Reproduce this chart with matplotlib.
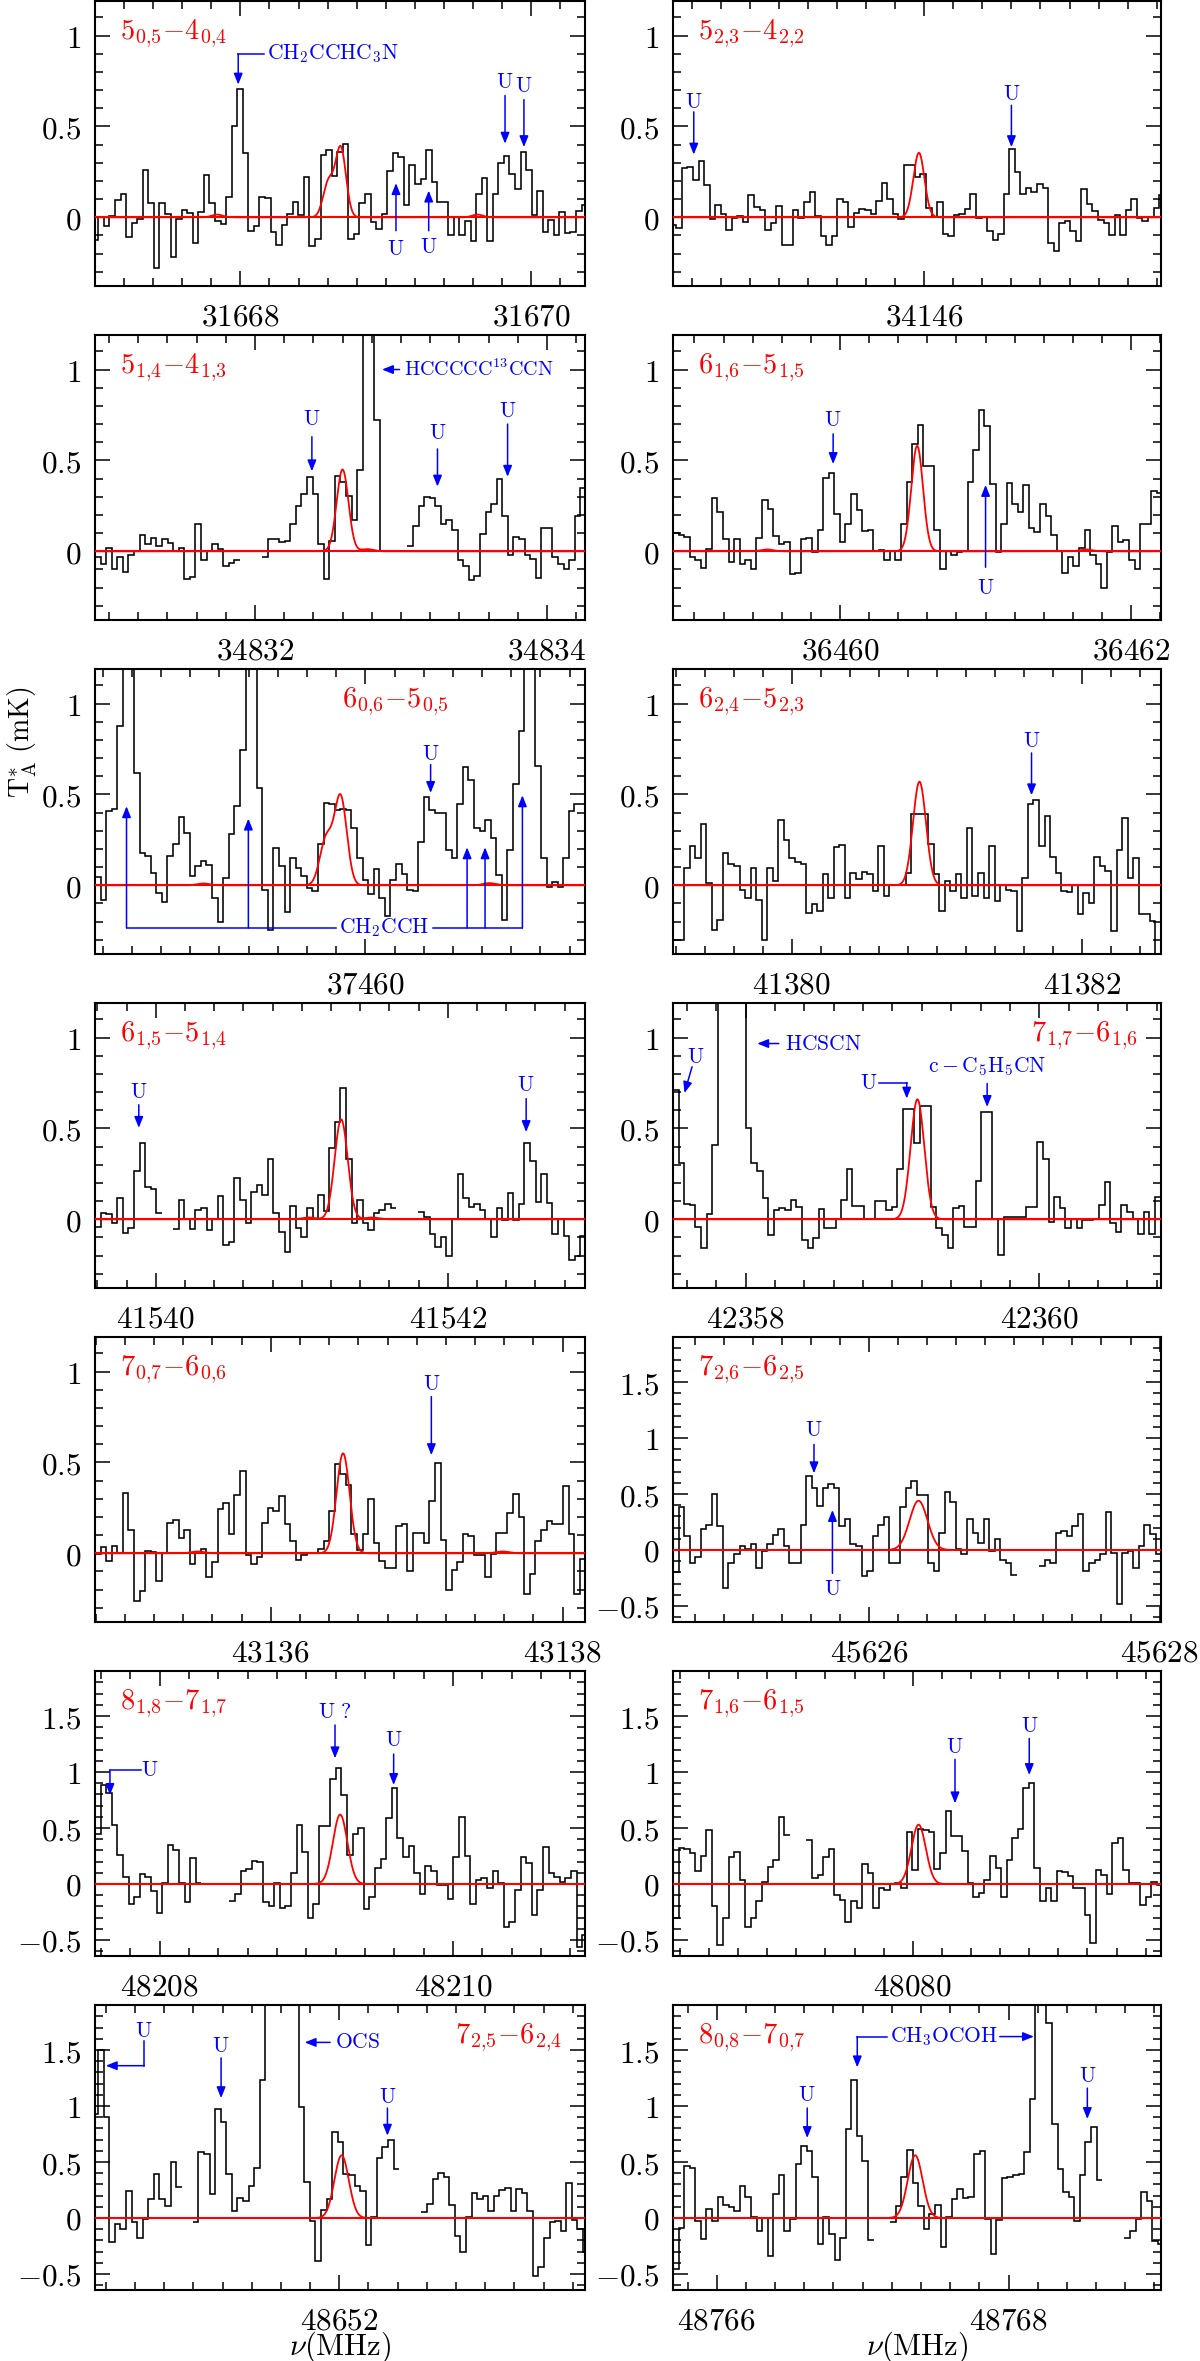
import numpy as np
import matplotlib
matplotlib.use("Agg")
import matplotlib.pyplot as plt
from matplotlib.ticker import MultipleLocator, FuncFormatter

plt.rcParams['mathtext.fontset'] = 'cm'
plt.rcParams['font.family'] = ['DejaVu Serif']

nan = np.nan
DNU = 0.0382  # channel width (MHz)

# ---------------- spectra (T_A* in mK), channel by channel ----------------
spec_1 = [-0.125, 0.0, -0.05, 0.005, 0.095, 0.13, -0.11, -0.03, -0.01, 0.26,
          0.08, -0.28, 0.08, 0.02, -0.22, -0.01, 0.04, 0.025, -0.14, 0.03,
          0.235, 0.08, -0.02, -0.035, 0.11, 0.5, 0.705, 0.355, -0.075, -0.05,
          0.11, 0.105, -0.08, -0.15, -0.04, 0.02, 0.085, 0.015, 0.22, -0.16,
          -0.12, 0.34, 0.37, 0.225, 0.36, 0.405, -0.12, -0.09, 0.08, 0.13,
          -0.025, -0.065, 0.02, 0.255, 0.355, 0.33, 0.065, 0.29, 0.185, 0.21,
          0.37, 0.195, 0.085, 0.085, -0.1, 0.0, -0.095, -0.02, -0.13, 0.13,
          0.215, -0.13, 0.13, 0.3, 0.335, 0.24, 0.155, 0.36, 0.26, 0.015,
          0.145, -0.08, -0.015, -0.1, 0.03, -0.085, -0.08, 0.035, 0.065]
spec_2 = [-0.045, -0.06, 0.27, 0.275, 0.205, 0.31, 0.18, -0.01, 0.07, 0.02,
          -0.07, -0.005, 0.005, -0.025, 0.125, 0.055, 0.04, -0.07, -0.03, 0.06,
          -0.15, -0.15, 0.04, -0.005, 0.085, 0.14, 0.005, -0.105, -0.15, -0.105,
          0.1, 0.085, -0.055, 0.025, 0.045, 0.04, 0.02, 0.09, 0.19, 0.1,
          0.02, -0.01, 0.29, 0.29, 0.22, 0.24, 0.05, 0.0, 0.085, -0.09,
          -0.105, 0.01, 0.02, 0.045, 0.13, -0.005, 0.0, -0.075, -0.125, -0.09,
          0.13, 0.375, 0.25, 0.13, 0.16, 0.14, 0.185, 0.16, -0.14, -0.185,
          -0.03, -0.02, -0.075, -0.13, 0.155, 0.075, 0.035, -0.015, -0.03, -0.1,
          0.015, -0.1, 0.04, 0.1, -0.005, -0.02, 0.0, 0.05, 0.12]
spec_3 = [-0.03, -0.07, 0.02, -0.1, -0.03, -0.115, -0.02, 0.0, 0.09, 0.04,
          0.075, 0.03, 0.065, 0.045, 0.0, 0.02, -0.15, -0.14, 0.15, -0.05,
          0.0, 0.04, 0.01, -0.08, -0.065, -0.05, nan, nan, nan, nan,
          -0.03, 0.07, 0.07, 0.05, 0.055, 0.15, 0.25, 0.315, 0.41, 0.315,
          0.04, -0.15, 0.055, 0.415, 0.38, 0.305, 0.17, 0.45, 2.0, 2.0,
          0.72, 0.0, nan, nan, nan, nan,
          0.03, 0.14, 0.25, 0.3, 0.295, 0.25, 0.15, 0.17, 0.115, -0.05,
          -0.08, -0.16, -0.135, 0.095, 0.215, 0.26, 0.395, 0.195, -0.02, 0.08,
          0.065, -0.02, -0.045, -0.145, 0.13, 0.13, -0.03, -0.07, -0.1, -0.05,
          0.195, 0.35]
spec_4 = [0.1, 0.09, 0.08, -0.03, -0.05, -0.09, 0.01, 0.295, 0.215, 0.07,
          -0.06, 0.07, -0.07, -0.05, -0.1, 0.075, 0.28, 0.235, 0.085, 0.04,
          0.05, -0.125, -0.12, 0.07, 0.075, -0.005, 0.115, 0.405, 0.43, 0.205,
          0.05, 0.15, 0.315, 0.225, 0.11, 0.115, 0.0, 0.005, -0.05, 0.0,
          -0.05, 0.15, 0.38, 0.59, 0.695, 0.47, 0.47, 0.115, -0.1, 0.0,
          -0.02, -0.005, 0.0, 0.38, 0.555, 0.78, 0.69, 0.37, -0.005, 0.15,
          0.375, 0.26, 0.215, 0.365, 0.13, 0.105, 0.26, 0.195, 0.09, 0.0,
          -0.12, -0.03, -0.08, 0.02, 0.115, -0.02, -0.07, -0.2, -0.005, 0.14,
          0.05, 0.06, -0.05, -0.1, 0.15, 0.15, 0.33, 0.32, 0.045]
spec_5 = [0.045, -0.08, 0.41, 0.42, 0.875, 1.6, 1.6, 0.62, 0.18, 0.16,
          0.07, -0.04, -0.09, 0.16, 0.225, 0.375, 0.29, 0.05, 0.105, 0.135,
          0.11, -0.07, -0.2, 0.04, 0.28, 0.435, 0.745, 2.0, 2.0, 0.535,
          -0.025, -0.245, 0.205, 0.105, -0.145, 0.15, 0.095, 0.05, -0.015, -0.03,
          0.225, 0.455, 0.445, 0.415, 0.42, 0.415, 0.315, 0.15, 0.03, -0.05,
          0.09, -0.07, -0.17, 0.03, 0.115, 0.06, -0.025, -0.03, 0.24, 0.485,
          0.415, 0.4, 0.395, 0.195, 0.15, 0.445, 0.65, 0.58, 0.315, 0.3,
          0.36, 0.26, 0.055, -0.19, 0.195, 0.56, 0.85, 2.0, 2.0, 0.655,
          0.15, -0.01, 0.02, -0.01, 0.15, 0.41, 0.445, 0.445, 0.315]
spec_6 = [-0.3, -0.3, 0.095, 0.215, 0.15, 0.335, 0.015, -0.245, -0.19, 0.18,
          0.115, 0.105, -0.025, -0.07, 0.095, -0.08, -0.3, 0.095, 0.025, 0.36,
          0.25, 0.15, 0.13, 0.115, -0.15, -0.105, -0.14, 0.06, -0.07, 0.21,
          0.22, -0.07, 0.07, 0.035, 0.075, 0.06, -0.03, 0.215, -0.06, 0.0,
          0.0, 0.0, 0.07, 0.39, 0.39, 0.39, 0.225, 0.06, -0.14, 0.025,
          -0.03, 0.06, -0.07, 0.315, -0.06, 0.065, -0.07, 0.215, -0.085, 0.0,
          -0.025, -0.03, -0.25, 0.04, 0.45, 0.47, 0.215, 0.38, 0.155, 0.07,
          -0.03, -0.035, 0.0, -0.16, -0.045, -0.095, 0.155, 0.105, 0.08, -0.25,
          0.195, 0.37, 0.04, 0.15, -0.16, -0.16, -0.195, -0.5, -0.02]
spec_7 = [-0.045, 0.035, 0.03, -0.02, 0.115, -0.075, -0.05, 0.265, 0.42, 0.175,
          0.165, 0.035, nan, nan, -0.055, 0.105, 0.0, -0.055, 0.05, 0.06,
          -0.06, 0.0, 0.13, -0.14, -0.125, 0.225, 0.105, -0.02, 0.15, 0.19,
          0.135, 0.33, 0.035, -0.07, -0.18, 0.075, -0.05, -0.1, 0.06, 0.0,
          0.135, 0.045, 0.39, 0.535, 0.72, 0.33, -0.02, 0.105, -0.02, -0.06,
          0.035, 0.05, 0.085, 0.06, nan, nan, nan, nan, 0.04, 0.01,
          -0.08, -0.15, -0.095, -0.2, 0.0, 0.25, 0.115, 0.065, 0.085, 0.05,
          0.0, -0.1, 0.06, -0.005, 0.145, -0.005, 0.085, 0.42, 0.32, 0.095,
          0.25, 0.09, -0.08, 0.0, -0.09, -0.225, -0.2, -0.09, 0.25]
spec_8 = [0.71, 0.31, 0.085, 0.08, -0.04, -0.16, 0.03, 0.41, 1.8, 2.0,
          2.0, 2.0, 2.0, 0.5, 0.31, 0.265, 0.115, -0.085, 0.05, 0.06,
          0.05, 0.105, 0.07, -0.115, -0.16, -0.105, 0.055, -0.05, -0.05, 0.0,
          0.105, 0.275, 0.075, 0.075, 0.0, 0.0, 0.1, 0.1, 0.05, 0.065,
          0.275, 0.605, 0.605, 0.42, 0.625, 0.625, 0.07, -0.05, -0.085, -0.16,
          0.06, 0.075, -0.04, -0.04, 0.21, 0.59, 0.59, 0.0, -0.195, 0.015,
          0.015, 0.015, 0.015, 0.07, 0.07, 0.425, 0.33, -0.015, 0.12, 0.06,
          -0.05, 0.0, -0.05, -0.005, -0.005, 0.0, 0.08, 0.205, -0.02, -0.07,
          0.08, 0.04, 0.0, -0.08, 0.04, -0.08, 0.12, 0.04, -0.05]
spec_9 = [-0.005, 0.035, -0.045, 0.04, 0.0, 0.33, 0.13, -0.26, -0.205, 0.015,
          0.005, -0.15, 0.0, 0.165, 0.185, 0.085, 0.13, -0.06, 0.0, 0.025,
          -0.13, -0.05, 0.245, 0.275, 0.105, 0.32, 0.455, -0.01, -0.06, -0.02,
          0.165, 0.25, 0.23, 0.315, 0.16, 0.07, -0.035, -0.01, 0.0, 0.0,
          0.025, 0.07, 0.23, 0.49, 0.435, 0.375, 0.105, 0.02, 0.105, 0.3,
          0.055, -0.045, -0.08, -0.08, 0.15, 0.16, -0.1, 0.11, 0.11, 0.055,
          0.285, 0.495, 0.075, -0.2, -0.09, -0.05, 0.105, 0.095, -0.01, -0.01,
          -0.13, -0.005, 0.11, 0.11, 0.22, 0.325, 0.2, -0.225, -0.115, 0.07,
          0.13, 0.175, 0.16, 0.16, 0.37, 0.105, -0.225, -0.03, -0.045]
spec_10 = [-0.2, 0.385, 0.125, -0.115, -0.06, 0.185, 0.22, 0.5, 0.215, -0.335,
           -0.115, -0.04, 0.035, 0.01, 0.055, -0.16, -0.01, 0.05, 0.135, 0.185,
           0.035, -0.115, -0.115, 0.22, 0.66, 0.555, 0.395, 0.555, 0.59, 0.555,
           0.215, 0.275, 0.05, 0.035, -0.23, -0.19, 0.125, 0.22, 0.295, -0.115,
           -0.115, 0.38, 0.555, 0.615, 0.49, 0.49, -0.115, -0.19, 0.155, 0.52,
           0.43, 0.01, -0.04, 0.275, 0.155, 0.065, 0.275, -0.01, 0.1, -0.085,
           -0.115, -0.22, nan, nan, nan, nan, -0.145, -0.085, -0.115, 0.155,
           0.17, 0.125, 0.215, 0.325, -0.19, -0.115, -0.085, -0.04, 0.335, -0.025,
           -0.485, -0.025, -0.01, -0.165, 0.035, 0.22, 0.14, -0.04, 0.035]
spec_11 = [0.45, 0.885, 0.81, 0.525, 0.26, 0.06, -0.175, -0.115, 0.09, 0.065,
           -0.06, -0.26, 0.005, 0.35, 0.305, 0.005, -0.16, 0.23, 0.01, nan,
           nan, nan, nan, nan, -0.15, -0.085, 0.12, 0.13, 0.205, 0.195,
           -0.16, -0.195, 0.005, -0.215, -0.195, 0.095, 0.525, 0.29, -0.305, -0.18,
           0.52, 0.52, 0.935, 1.04, 0.795, 0.255, 0.45, 0.5, -0.225, -0.115,
           0.14, 0.22, 0.585, 0.855, 0.41, 0.245, 0.335, 0.1, -0.09, 0.165,
           0.12, -0.01, -0.01, -0.135, 0.245, 0.6, 0.25, -0.175, 0.035, 0.05,
           -0.04, 0.12, 0.01, -0.38, -0.335, -0.05, 0.24, 0.185, -0.275, -0.05,
           0.33, 0.095, 0.06, 0.02, 0.05, 0.12, -0.56, -0.455, 0.2]
spec_12 = [-0.305, 0.32, 0.31, 0.275, 0.12, 0.25, 0.48, -0.195, -0.545, -0.3,
           0.245, 0.29, 0.035, -0.385, -0.305, -0.155, 0.02, 0.155, 0.215, 0.6,
           0.435, nan, nan, nan, 0.395, 0.05, 0.08, 0.24, 0.31, -0.1,
           -0.145, -0.335, -0.155, -0.215, 0.18, 0.095, -0.215, -0.04, -0.05, 0.0,
           0.005, -0.04, 0.465, 0.125, 0.49, 0.48, 0.465, 0.13, 0.275, 0.655,
           0.43, 0.43, 0.295, 0.005, -0.115, -0.08, 0.035, 0.25, 0.14, -0.115,
           0.21, 0.41, 0.49, 0.86, 0.9, 0.14, -0.15, -0.04, -0.15, 0.12,
           0.11, 0.07, -0.04, -0.04, -0.275, -0.525, 0.125, 0.08, -0.085, 0.37,
           0.41, 0.125, 0.005, 0.005, -0.19, -0.115, 0.02, -0.01, -0.01]
spec_13 = [0.93, 1.5, 0.9, -0.215, -0.05, -0.1, 0.245, -0.04, -0.175, -0.01,
           0.17, 0.395, 0.17, 0.11, 0.5, 0.275, nan, nan, -0.04, 0.585,
           0.57, 0.215, 0.975, 0.855, 0.395, 0.06, 0.18, 0.155, 0.29, 0.45,
           1.235, 2.2, 2.2, 2.2, 2.2, 2.2, 2.2, 0.99, 0.32, -0.025,
           -0.38, 0.07, 0.17, 0.765, 0.675, 0.395, 0.385, 0.29, 0.245, -0.245,
           0.01, 0.54, 0.63, 0.7, 0.44, nan, nan, nan, nan, 0.05,
           0.125, 0.35, 0.4, 0.365, 0.12, -0.165, -0.305, 0.005, 0.22, 0.17,
           0.2, 0.065, 0.2, 0.25, 0.265, 0.06, 0.26, 0.22, 0.06, -0.515,
           -0.435, -0.18, -0.04, -0.025, -0.115, 0.31, -0.02, -0.1, -0.3, 0.14, 0.46]
spec_14 = [-0.455, -0.085, 0.465, 0.45, -0.025, -0.19, 0.08, -0.025, 0.185, 0.12,
           0.095, 0.06, 0.29, 0.185, 0.005, -0.115, 0.0, -0.335, 0.215, 0.385,
           -0.115, -0.01, 0.48, 0.64, 0.6, 0.365, -0.23, 0.01, -0.145, -0.375,
           -0.175, 0.795, 1.23, 0.73, 0.505, -0.2, nan, nan, nan, -0.04,
           0.11, 0.365, 0.61, 0.31, 0.11, -0.1, 0.035, 0.12, -0.26, 0.005,
           0.17, 0.26, 0.175, 0.19, 0.57, 0.595, -0.01, -0.32, -0.02, 0.355,
           0.365, 0.38, 0.39, 0.585, 1.06, 2.0, 2.0, 1.74, 0.84, 0.44,
           0.23, 0.185, -0.025, 0.385, 0.675, 0.81, 0.34, nan, nan, nan,
           nan, -0.175, -0.115, -0.01, 0.235, 0.155, -0.205, -0.23, -0.285, -0.335]
SPECTRA = [spec_1, spec_2, spec_3, spec_4, spec_5, spec_6, spec_7,
           spec_8, spec_9, spec_10, spec_11, spec_12, spec_13, spec_14]

# frequency ranges (MHz) and first-channel left edges
XLIMS = [(31667.0, 31670.37), (34144.27, 34147.63), (34830.905, 34834.26),
         (36458.853, 36462.205), (37458.147, 37461.505), (41379.182, 41382.544),
         (41539.584, 41542.94), (42357.504, 42360.83), (43134.795, 43138.153),
         (45624.649, 45628.01), (48207.558, 48210.90), (48078.353, 48081.705),
         (48650.326, 48653.684), (48765.70, 48769.045)]
EDGE0 = [31666.985, 34144.255, 34830.905, 36458.853, 37458.147, 41379.182,
         41539.584, 42357.504, 43134.795, 45624.649, 48207.558, 48078.353,
         48650.309, 48765.70]
YLIM_SMALL = (-0.378, 1.19)
YLIM_LARGE = (-0.643, 1.902)
YLIMS = [YLIM_SMALL] * 9 + [YLIM_LARGE] * 5

TRANSITIONS = [r'$5_{0{,}5}{-}4_{0{,}4}$', r'$5_{2{,}3}{-}4_{2{,}2}$',
               r'$5_{1{,}4}{-}4_{1{,}3}$', r'$6_{1{,}6}{-}5_{1{,}5}$',
               r'$6_{0{,}6}{-}5_{0{,}5}$', r'$6_{2{,}4}{-}5_{2{,}3}$',
               r'$6_{1{,}5}{-}5_{1{,}4}$', r'$7_{1{,}7}{-}6_{1{,}6}$',
               r'$7_{0{,}7}{-}6_{0{,}6}$', r'$7_{2{,}6}{-}6_{2{,}5}$',
               r'$8_{1{,}8}{-}7_{1{,}7}$', r'$7_{1{,}6}{-}6_{1{,}5}$',
               r'$7_{2{,}5}{-}6_{2{,}4}$', r'$8_{0{,}8}{-}7_{0{,}7}$']

# model fit: Gaussian components (centre MHz, peak mK) and line FWHM (MHz)
MODEL_LINES = [
    [(31667.84, 0.015), (31668.605, 0.19), (31668.69, 0.38), (31669.63, 0.015)],
    [(34145.963, 0.355)],
    [(34832.60, 0.45), (34832.77, 0.012)],
    [(36459.50, 0.01), (36460.53, 0.58), (36461.69, 0.01)],
    [(37458.89, 0.01), (37459.73, 0.25), (37459.83, 0.485), (37460.85, 0.012)],
    [(41380.88, 0.57)],
    [(41541.05, 0.01), (41541.27, 0.55), (41541.48, 0.01)],
    [(42359.17, 0.66)],
    [(43135.50, 0.01), (43136.495, 0.55), (43137.59, 0.01)],
    [(45626.34, 0.44)],
    [(48209.23, 0.62)],
    [(48080.04, 0.53)],
    [(48652.016, 0.56)],
    [(48767.36, 0.56)],
]
MODEL_FWHM = [0.085, 0.09, 0.095, 0.095, 0.10, 0.105, 0.105, 0.11, 0.105,
              0.145, 0.116, 0.116, 0.116, 0.12]

# annotations ------------------------------------------------------------
# (panel, x, y_text, y_tail, y_head, text)
DOWN_ARROWS = [
    (0, 31669.82, 0.746, 0.67, 0.405, 'U'), (0, 31669.95, 0.72, 0.647, 0.386, 'U'),
    (1, 34144.413, 0.634, 0.58, 0.345, 'U'), (1, 34146.60, 0.68, 0.616, 0.386, 'U'),
    (2, 34832.39, 0.728, 0.63, 0.44, 'U'), (2, 34833.25, 0.65, 0.563, 0.356, 'U'),
    (2, 34833.73, 0.774, 0.70, 0.41, 'U'),
    (3, 36459.953, 0.72, 0.646, 0.48, 'U'),
    (4, 37460.447, 0.723, 0.664, 0.508, 'U'),
    (5, 41381.652, 0.793, 0.728, 0.495, 'U'),
    (6, 41539.884, 0.70, 0.63, 0.503, 'U'), (6, 41542.537, 0.74, 0.664, 0.48, 'U'),
    (7, 42359.645, 0.838, 0.747, 0.618, r'c-C_5H_5CN'),
    (8, 43137.10, 0.93, 0.862, 0.54, 'U'),
    (9, 45625.62, 1.068, 0.943, 0.685, 'U'),
    (10, 48209.195, 1.54, 1.42, 1.122, r'U\ ?'), (10, 48209.595, 1.286, 1.16, 0.884, 'U'),
    (11, 48080.29, 1.226, 1.113, 0.72, 'U'), (11, 48080.80, 1.41, 1.30, 0.973, 'U'),
    (12, 48651.19, 1.54, 1.43, 1.07, 'U'), (12, 48652.33, 1.077, 0.982, 0.735, 'U'),
    (13, 48766.62, 1.098, 0.982, 0.714, 'U'), (13, 48768.54, 1.27, 1.16, 0.884, 'U'),
]
# (panel, x, y_text, y_tail, y_head)
UP_ARROWS = [
    (0, 31669.07, -0.175, -0.074, 0.188), (0, 31669.295, -0.165, -0.074, 0.147),
    (3, 36461.0, -0.20, -0.088, 0.365),
    (9, 45625.747, -0.35, -0.208, 0.357),
]
# poly-lines: (panel, points, arrow at last point?)
PATHS = [
    (0, [(31668.16, 0.90), (31667.985, 0.90), (31667.985, 0.73)], True),
    (2, [(34832.99, 1.0), (34832.87, 1.0)], True),
    (4, [(37458.363, -0.235), (37459.80, -0.235)], False),
    (4, [(37460.46, -0.235), (37461.076, -0.235)], False),
    (4, [(37458.363, -0.235), (37458.363, 0.435)], True),
    (4, [(37459.198, -0.235), (37459.198, 0.367)], True),
    (4, [(37460.697, -0.235), (37460.697, 0.209)], True),
    (4, [(37460.82, -0.235), (37460.82, 0.209)], True),
    (4, [(37461.076, -0.235), (37461.076, 0.495)], True),
    (7, [(42357.634, 0.839), (42357.582, 0.695)], True),
    (7, [(42358.225, 0.967), (42358.078, 0.967)], True),
    (7, [(42358.905, 0.752), (42359.097, 0.752), (42359.097, 0.664)], True),
    (10, [(48207.87, 1.018), (48207.66, 1.018), (48207.66, 0.795)], True),
    (12, [(48650.663, 1.583), (48650.663, 1.36), (48650.40, 1.36)], True),
    (12, [(48651.937, 1.568), (48651.763, 1.568)], True),
    (13, [(48767.17, 1.62), (48766.963, 1.62), (48766.963, 1.345)], True),
    (13, [(48767.94, 1.62), (48768.174, 1.62)], True),
]
# (panel, x, y, text, ha)
TEXTS = [
    (0, 31668.18, 0.90, r'CH_2CCHC_3N', 'left'),
    (2, 34833.02, 1.0, r'HCCCCC^{13}CCN', 'left'),
    (4, 37460.13, -0.235, r'CH_2CCH', 'center'),
    (7, 42357.66, 0.894, 'U', 'center'),
    (7, 42358.27, 0.967, 'HCSCN', 'left'),
    (7, 42358.836, 0.752, 'U', 'center'),
    (10, 48207.93, 1.018, 'U', 'center'),
    (12, 48650.663, 1.667, 'U', 'center'),
    (12, 48651.97, 1.568, 'OCS', 'left'),
    (13, 48767.558, 1.62, r'CH_3OCOH', 'center'),
]

# ---------------- figure ----------------
W, H = 1200, 2361
fig = plt.figure(figsize=(W / 100, H / 100), dpi=100)
BLUE = (0, 0, 1)
RED = (1, 0, 0)
TICK_FS = 22.5
ANN_FS = 15.5
LABEL_FS = 20.5

def tickfmt(v, p):
    v = round(v, 6) + 0.0
    return r'$%g$' % v

axes = []
for k in range(14):
    r, c = divmod(k, 2)
    top = 334 * r + 1
    left = 95 if c == 0 else 673
    width = 490 if c == 0 else 488
    ax = fig.add_axes([left / W, 1 - (top + 285) / H, width / W, 285 / H])
    axes.append(ax)
    lo, hi = XLIMS[k]
    vals = np.array(SPECTRA[k], dtype=float)
    edges = EDGE0[k] + DNU * np.arange(len(vals) + 1)
    ax.stairs(vals, edges, baseline=None, color='black', lw=1.15, zorder=2)
    # model
    xm = np.linspace(lo, hi, 3000)
    sig = MODEL_FWHM[k] / 2.3548
    ym = np.zeros_like(xm)
    for cen, amp in MODEL_LINES[k]:
        ym += amp * np.exp(-0.5 * ((xm - cen) / sig) ** 2)
    ax.axhline(0, color=RED, lw=1.5, zorder=3)
    ax.plot(xm, ym, color=RED, lw=1.3, zorder=3)
    ax.set_xlim(lo, hi)
    ax.set_ylim(*YLIMS[k])
    ax.xaxis.set_major_locator(MultipleLocator(2))
    ax.xaxis.set_minor_locator(MultipleLocator(0.2))
    ax.yaxis.set_major_locator(MultipleLocator(0.5))
    ax.yaxis.set_minor_locator(MultipleLocator(0.1))
    ax.xaxis.set_major_formatter(FuncFormatter(tickfmt))
    ax.yaxis.set_major_formatter(FuncFormatter(tickfmt))
    ax.tick_params(which='both', direction='in', top=True, right=True, width=1.1)
    ax.tick_params(which='major', length=10.5, labelsize=TICK_FS)
    ax.tick_params(which='minor', length=5.5)
    ax.tick_params(axis='x', which='major', pad=11)
    ax.tick_params(axis='y', which='major', pad=10)
    for s in ax.spines.values():
        s.set_linewidth(1.5)
    # transition label
    if k in (7, 12):
        ax.text(0.953, 0.867, TRANSITIONS[k], transform=ax.transAxes, color=RED,
                fontsize=LABEL_FS, ha='right', va='baseline')
    elif k == 4:
        ax.text(0.504, 0.867, TRANSITIONS[k], transform=ax.transAxes, color=RED,
                fontsize=LABEL_FS, ha='left', va='baseline')
    else:
        ax.text(0.051, 0.867, TRANSITIONS[k], transform=ax.transAxes, color=RED,
                fontsize=LABEL_FS, ha='left', va='baseline')

arrow_kw = dict(arrowstyle='-|>,head_length=0.55,head_width=0.22', color=BLUE,
                lw=1.1, shrinkA=0, shrinkB=0, mutation_scale=12)

for k, x, yt, y0, y1, txt in DOWN_ARROWS:
    ax = axes[k]
    ax.annotate('', xy=(x, y1), xytext=(x, y0), arrowprops=arrow_kw, zorder=4)
    ax.text(x, yt, r'$\mathrm{%s}$' % txt, color=BLUE, fontsize=ANN_FS,
            ha='center', va='center', zorder=4)

for k, x, yt, y0, y1 in UP_ARROWS:
    ax = axes[k]
    ax.annotate('', xy=(x, y1), xytext=(x, y0), arrowprops=arrow_kw, zorder=4)
    ax.text(x, yt, r'$\mathrm{U}$', color=BLUE, fontsize=ANN_FS,
            ha='center', va='center', zorder=4)

for k, pts, arrow in PATHS:
    ax = axes[k]
    xs = [p[0] for p in pts]
    ys = [p[1] for p in pts]
    if arrow:
        if len(pts) > 2:
            ax.plot(xs[:-1], ys[:-1], color=BLUE, lw=1.1, zorder=4)
        ax.annotate('', xy=pts[-1], xytext=pts[-2], arrowprops=arrow_kw, zorder=4)
    else:
        ax.plot(xs, ys, color=BLUE, lw=1.1, zorder=4)

for k, x, y, txt, ha in TEXTS:
    fs = 14.5 if k == 2 else ANN_FS
    axes[k].text(x, y, r'$\mathrm{%s}$' % txt, color=BLUE, fontsize=fs,
                 ha=ha, va='center', zorder=4)

fig.text(22 / W, 1 - 742 / H, r'$\mathrm{T_A^{*}\ (mK)}$', rotation=90,
         ha='center', va='center', fontsize=20)
fig.text(340 / W, 1 - 2347 / H, r'$\nu(\mathrm{MHz})$', ha='center', va='center',
         fontsize=22)
fig.text(917 / W, 1 - 2347 / H, r'$\nu(\mathrm{MHz})$', ha='center', va='center',
         fontsize=22)

fig.savefig('out.png', dpi=100)
